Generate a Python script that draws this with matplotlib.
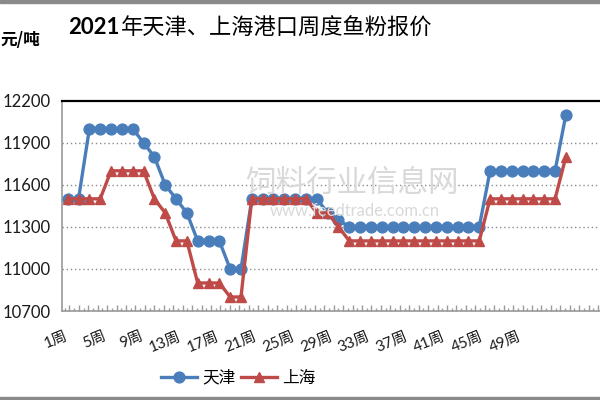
import matplotlib
matplotlib.use("Agg")
import matplotlib.pyplot as plt
from matplotlib.patches import Rectangle

plt.rcParams['font.family'] = ['Lato', 'Noto Sans CJK SC', 'DejaVu Sans']

# ---- data ----
weeks = list(range(1, 48))
tianjin = [11500, 11500, 12000, 12000, 12000, 12000, 12000, 11900, 11800, 11600,
           11500, 11400, 11200, 11200, 11200, 11000, 11000,
           11500, 11500, 11500, 11500, 11500, 11500, 11500, 11400, 11350,
           11300, 11300, 11300, 11300, 11300, 11300, 11300, 11300, 11300, 11300,
           11300, 11300, 11300,
           11700, 11700, 11700, 11700, 11700, 11700, 11700, 12100]
shanghai = [11500, 11500, 11500, 11500, 11700, 11700, 11700, 11700, 11500, 11400,
            11200, 11200, 10900, 10900, 10900, 10800, 10800,
            11500, 11500, 11500, 11500, 11500, 11500, 11400, 11400, 11300,
            11200, 11200, 11200, 11200, 11200, 11200, 11200, 11200, 11200, 11200,
            11200, 11200, 11200,
            11500, 11500, 11500, 11500, 11500, 11500, 11500, 11800]
tick_weeks = list(range(1, 50, 4))
yticks = [10700, 11000, 11300, 11600, 11900, 12200]
series_names = ["天津", "上海"]
title_num = "2021"
title_rest = "年天津、上海港口周度鱼粉报价"
unit = "元/吨"

W, H = 600, 400
fig = plt.figure(figsize=(6, 4), dpi=100)

ax_left = 62.3 / W
ax_bottom = (H - 311) / H
ax_top = (H - 100.7) / H
ax_w = (W - 62.3) / W
rect = [ax_left, ax_bottom, ax_w, ax_top - ax_bottom]

ax = fig.add_axes(rect)
data_sp = 10.83
ax.set_xticks([])
ax.set_xlim(0.5, 0.5 + (W - 62.3) / data_sp)
ax.set_ylim(10700, 12200)

blue = '#4a7ebb'
red = '#be4b48'
ax.plot(weeks, tianjin, color=blue, lw=2.4, marker='o', ms=7.8, label=series_names[0], zorder=3)
ax.plot(weeks, shanghai, color=red, lw=2.4, marker='^', ms=7.5, label=series_names[1], zorder=4)

ax.set_yticks(yticks)
ax.set_yticklabels([str(v) for v in yticks], fontsize=12, color='#1a1a1a')
ax.tick_params(axis='y', length=0, pad=8)
for v in yticks[1:-1]:
    ax.axhline(v, color='#8c8c8c', lw=1.0, ls=(0, (1, 2)), zorder=1)
ax.set_xlim(0.5, 0.5 + (W - 62.3) / data_sp)
ax.set_ylim(10700, 12200)

ax.spines['right'].set_visible(False)
ax.spines['top'].set_color('black')
ax.spines['top'].set_linewidth(1.6)
ax.spines['left'].set_color('#9a9a9a')
ax.spines['left'].set_linewidth(1.2)
ax.spines['bottom'].set_color('#9a9a9a')
ax.spines['bottom'].set_linewidth(1.2)

# label axis (category spacing of the labels as drawn in the reference)
lab_sp = 9.44
x0 = 0.746
ax2 = fig.add_axes(rect, frameon=False)
ax2.patch.set_visible(False)
ax2.set_yticks([])
cats = list(range(1, 62))
ax2.set_xticks([x + 0.5 for x in range(0, 62)], minor=True)
ax2.set_xticks(cats)
ax2.set_xticklabels([f"{x}周" if x in tick_weeks else "" for x in cats],
                    fontsize=11, rotation=22, ha='right', rotation_mode='anchor', color='#1a1a1a')
ax2.tick_params(axis='x', which='minor', length=4, direction='in', color='#9a9a9a', width=1)
ax2.tick_params(axis='x', which='major', length=2, direction='in', color='#9a9a9a', width=1, pad=13)
ax2.set_xlim(x0, x0 + (W - 62.3) / lab_sp)
ax2.set_ylim(0, 1)

# legend
fig.legend(loc='center', bbox_to_anchor=(238 / W, 1 - 378 / H), ncol=2, frameon=False,
           handlelength=2.2, columnspacing=0.3, handletextpad=0.3,
           prop={'family': ['Noto Sans CJK SC'], 'size': 12})

# title & unit
fig.canvas.draw()
r = fig.canvas.get_renderer()
t1 = fig.text(68 / W, 1 - 28 / H, title_num, fontsize=16, fontweight='bold', ha='left', va='center',
              family=['Lato'])
bb = t1.get_window_extent(renderer=r)
fig.text(bb.x1 / W + 0.002, 1 - 28 / H, title_rest, fontsize=16, ha='left', va='center',
         family=['Noto Sans CJK SC'], fontweight='medium')
fig.text(0.5 / W, 1 - 40 / H, unit, fontsize=12, fontweight='bold', ha='left', va='center',
         family=['Noto Sans CJK SC'])

# faint watermark text
fig.text(352 / W, 1 - 183 / H, "饲料行业信息网", fontsize=22, color='#d9d9d9', ha='center', va='center',
         family=['Noto Sans CJK SC'], zorder=0.5)
fig.text(355 / W, 1 - 211 / H, "www.feedtrade.com.cn", fontsize=12, color='#d9d9d9', ha='center',
         va='center', zorder=0.5)

# frame lines (top and bottom gray borders)
fig.patches.append(Rectangle((0, 1 - 2.5 / H), 1, 2.5 / H, transform=fig.transFigure,
                             color='#8a8a8a', zorder=0))
fig.patches.append(Rectangle((0, 0), 1, 3 / H, transform=fig.transFigure,
                             color='#8a8a8a', zorder=0))

fig.savefig('out.png', dpi=100)
